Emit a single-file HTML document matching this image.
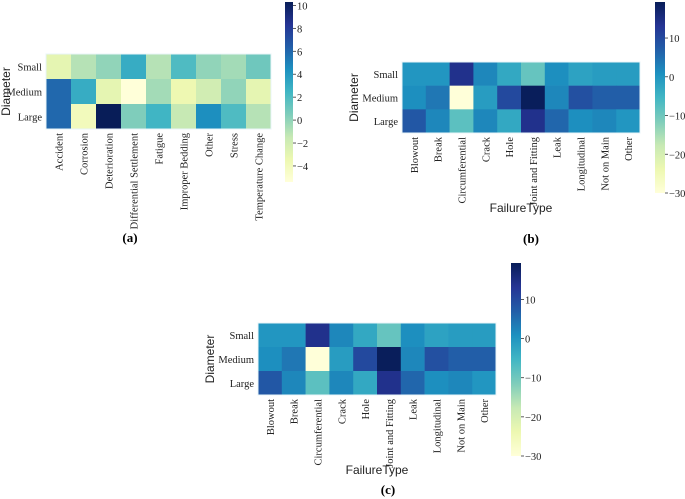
<!DOCTYPE html>
<html><head><meta charset="utf-8">
<style>
body{margin:0;background:#fff;}
svg{display:block;}
.t{font-family:"Liberation Serif",serif;font-size:10.5px;fill:#222;}
.s{font-family:"Liberation Sans",sans-serif;font-size:12px;fill:#222;}
.b{font-family:"Liberation Serif",serif;font-size:13px;font-weight:bold;fill:#000;}
</style></head>
<body>
<svg id="fig" width="685" height="499" xmlns="http://www.w3.org/2000/svg"></svg>
<script>
const rowsLabels=["Small","Medium","Large"];
const catsA=["Accident","Corrosion","Deterioration","Differential Settlement","Fatigue","Improper Bedding","Other","Stress","Temperature Change"];
const valsA=[[-3,-1,0,3,-1,2,0,-0.5,1],[6,3,-3,-5.4,-0.5,-3.5,-2,0,-3],[6,-4,10.3,0.5,2.5,-1.5,4.5,2,-1]];
const ticksA=[-4,-2,0,2,4,6,8,10];
const catsB=["Blowout","Break","Circumferential","Crack","Hole","Joint and Fitting","Leak","Longitudinal","Not on Main","Other"];
const valsB=[[0,0,14,2,-3,-9,1,-2,-1,-1],[1,4,-30,-1,10,19,2,9,7,7],[8,2,-8,2,-3,14,6,1,2,0]];
const ticksB=[-30,-20,-10,0,10];
const stops=["#ffffd9","#edf8b1","#c7e9b4","#7fcdbb","#41b6c4","#1d91c0","#225ea8","#253494","#081d58"];
const NS="http://www.w3.org/2000/svg";
const svg=document.getElementById('fig');
function hex(h){return [1,3,5].map(i=>parseInt(h.substr(i,2),16));}
function cmap(t){t=Math.max(0,Math.min(1,t));const p=t*(stops.length-1);const i=Math.min(stops.length-2,Math.floor(p));const f=p-i;const a=hex(stops[i]),b=hex(stops[i+1]);return "rgb("+a.map((v,k)=>Math.round(v+(b[k]-v)*f)).join(",")+")";}
function el(tag,attrs,parent){const e=document.createElementNS(NS,tag);for(const k in attrs)e.setAttribute(k,attrs[k]);(parent||svg).appendChild(e);return e;}
let gid=0;
function heatmap(o){
  const g=el('g',{});
  
  
  const nc=o.cats.length,nr=rowsLabels.length;
  const cw=(o.x1-o.x0)/nc,rh=(o.y1-o.y0)/nr;
  const sx=i=>o.x0+i*cw, sy=j=>o.y0+j*rh;
  const norm=v=>(v-o.vmin)/(o.vmax-o.vmin);
  o.vals.forEach((row,j)=>row.forEach((v,i)=>{
    const r=el('rect',{x:sx(i),y:sy(j),width:cw+0.3,height:rh+0.3,fill:cmap(norm(v))},g);
    
    
  }));
  el('rect',{x:o.x0,y:o.y0,width:o.x1-o.x0,height:o.y1-o.y0,fill:'none',stroke:'#e8f4f8','stroke-width':1},g);
  rowsLabels.forEach((l,j)=>{
    const t=el('text',{x:o.x0-4,y:sy(j)+rh/2+4,'text-anchor':'end',class:'t'},g);t.textContent=l;
    
    
  });
  o.cats.forEach((c,i)=>{
    const x=sx(i)+cw/2+4,y=o.y1+4;
    const t=el('text',{x:x,y:y,'text-anchor':'end',class:'t',transform:`rotate(-90 ${x} ${y})`},g);t.textContent=c;
    
    
  });
  const yl=el('text',{x:o.ylx,y:(o.y0+o.y1)/2,'text-anchor':'middle',class:'s',transform:`rotate(-90 ${o.ylx} ${(o.y0+o.y1)/2})`},g);yl.textContent="Diameter";
  
  
  if(o.xlY){const xl=el('text',{x:(o.x0+o.x1)/2,y:o.xlY,'text-anchor':'middle',class:'s'},g);xl.textContent="FailureType";
    
    }
  const id='grad'+(gid++);
  const defs=el('defs',{},g);const lg=el('linearGradient',{id:id,x1:0,y1:1,x2:0,y2:0},defs);
  stops.forEach((s,k)=>el('stop',{offset:k/(stops.length-1),'stop-color':s},lg));
  const cb=el('rect',{x:o.cbx,y:o.cby0,width:o.cbw,height:o.cby1-o.cby0,fill:`url(#${id})`},g);
  
  
  const cy=v=>o.cby1-norm(v)*(o.cby1-o.cby0);
  o.ticks.forEach(v=>{
    el('line',{x1:o.cbx+o.cbw,x2:o.cbx+o.cbw+3,y1:cy(v),y2:cy(v),stroke:"#333","stroke-width":0.8},g);
    const t=el('text',{x:o.cbx+o.cbw+4,y:cy(v)+4,class:'t'},g);t.textContent=(v<0?"\u2212"+(-v):v);
    
    
  });
  const p=el('text',{x:o.px,y:o.py,'text-anchor':'middle',class:'b'},g);p.textContent=o.panel;
  
  
}
heatmap({name:'heatmap-a',cats:catsA,vals:valsA,x0:46,x1:271,y0:54,y1:129,vmin:-5.4,vmax:10.3,ticks:ticksA,cbx:285,cbw:8,cby0:2,cby1:182,ylx:10,xlY:null,px:130,py:242,panel:'(a)'});
heatmap({name:'heatmap-b',cats:catsB,vals:valsB,x0:402,x1:640,y0:62,y1:133,vmin:-30,vmax:19.3,ticks:ticksB,cbx:655,cbw:10,cby0:2,cby1:193,ylx:358,xlY:212,px:531,py:243,panel:'(b)'});
heatmap({name:'heatmap-c',cats:catsB,vals:valsB,x0:258,x1:496,y0:323,y1:395,vmin:-30,vmax:19.3,ticks:ticksB,cbx:511,cbw:10,cby0:263,cby1:456,ylx:214,xlY:474,px:388,py:494,panel:'(c)'});
</script>
</body></html>
